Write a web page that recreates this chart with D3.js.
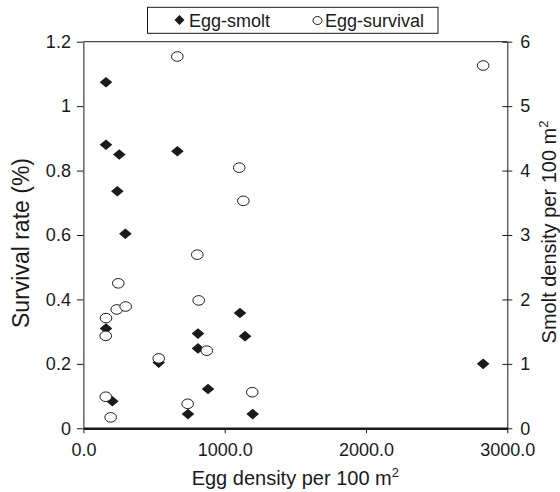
<!DOCTYPE html>
<html>
<head>
<meta charset="utf-8">
<script src="https://cdn.jsdelivr.net/npm/d3@7"></script>
<style>
  body { margin: 0; background: #fff; }
  svg { font-family: "Liberation Sans", Arial, sans-serif; }
</style>
</head>
<body>
<svg id="chart" width="560" height="492"></svg>
<script>
// egg-smolt series (right axis, smolts per 100 m2)
const smolt_eggs = [160, 160, 254, 665, 240, 297, 160, 1108, 811, 1144, 811, 533, 882, 205, 740, 1198, 2829];
const smolt_density = [5.37, 4.40, 4.25, 4.30, 3.68, 3.02, 1.55, 1.79, 1.47, 1.43, 1.24, 1.02, 0.61, 0.42, 0.22, 0.22, 1.0];

// egg-survival series (left axis, %)
const surv_eggs = [665, 1103, 1132, 806, 247, 816, 236, 299, 160, 158, 873, 533, 1195, 158, 738, 193, 2829];
const surv_rate = [1.154, 0.809, 0.706, 0.539, 0.450, 0.397, 0.369, 0.378, 0.342, 0.287, 0.241, 0.217, 0.112, 0.098, 0.076, 0.034, 1.126];

const x_ticks = [0, 1000, 2000, 3000];
const left_ticks = [0, 0.2, 0.4, 0.6, 0.8, 1, 1.2];
const right_ticks = [0, 1, 2, 3, 4, 5, 6];

const svg = d3.select("#chart");
const ink = "#1a1a1a";

const margins = { left: 83.4, right: 507.3, top: 41.7, bottom: 428.3 };

var x = d3.scaleLinear().domain([0, 3000]).range([margins.left, margins.right]);
var y_left = d3.scaleLinear().domain([0, 1.2]).range([margins.bottom, margins.top]);
var y_right = d3.scaleLinear().domain([0, 6]).range([margins.bottom, margins.top]);

// top frame line
svg.append("line")
    .attr("x1", x(0)).attr("x2", x(3000))
    .attr("y1", y_left(1.2)).attr("y2", y_left(1.2))
    .attr("stroke", ink).attr("stroke-width", 1);

// axes
const gx = svg.append("g")
    .attr("transform", `translate(0,${margins.bottom})`)
    .call(d3.axisBottom(x).tickValues(x_ticks).tickFormat(d3.format(".1f"))
        .tickSizeInner(5).tickSizeOuter(0).tickPadding(9.5));

const gl = svg.append("g")
    .attr("transform", `translate(${margins.left},0)`)
    .call(d3.axisLeft(y_left).tickValues(left_ticks).tickFormat(d3.format("~g"))
        .tickSizeInner(6.5).tickSizeOuter(0).tickPadding(6));

const gr = svg.append("g")
    .attr("transform", `translate(${margins.right},0)`)
    .call(d3.axisRight(y_right).tickValues(right_ticks).tickFormat(d3.format("~g"))
        .tickSizeInner(5).tickSizeOuter(0).tickPadding(8));
gr.selectAll(".tick line").attr("x1", -5);

[gx, gl, gr].forEach(g => {
    g.selectAll("text").attr("font-size", 18).attr("fill", ink)
        .attr("font-family", "Liberation Sans, Arial, sans-serif");
    g.selectAll("line").attr("stroke", ink);
    g.select(".domain").attr("stroke", ink);
});
gx.select(".domain").attr("stroke-width", 2.5);

// axis titles
const xt = svg.append("text")
    .attr("x", (margins.left + margins.right) / 2).attr("y", 485)
    .attr("text-anchor", "middle").attr("font-size", 20).attr("fill", ink);
xt.append("tspan").text("Egg density per 100 m");
xt.append("tspan").text("2").attr("font-size", 13).attr("dy", -8);

svg.append("text")
    .attr("transform", "translate(28.5,243) rotate(-90)")
    .attr("text-anchor", "middle").attr("font-size", 23).attr("fill", ink)
    .text("Survival rate (%)");

const rt = svg.append("text")
    .attr("transform", "translate(556,232) rotate(-90)")
    .attr("text-anchor", "middle").attr("font-size", 20).attr("fill", ink);
rt.append("tspan").text("Smolt density per 100 m");
rt.append("tspan").text("2").attr("font-size", 13).attr("dy", -8);

// markers
const diamond = (w, h) => `M0,${-h}L${w},0L0,${h}L${-w},0Z`;

svg.append("g")
    .selectAll("path")
    .data(smolt_eggs.map((e, i) => [e, smolt_density[i]]))
    .join("path")
    .attr("d", diamond(6.3, 5.3))
    .attr("transform", d => `translate(${x(d[0])},${y_right(d[1])})`)
    .attr("fill", ink);

svg.append("g")
    .selectAll("ellipse")
    .data(surv_eggs.map((e, i) => [e, surv_rate[i]]))
    .join("ellipse")
    .attr("cx", d => x(d[0]))
    .attr("cy", d => y_left(d[1]))
    .attr("rx", 5.8).attr("ry", 4.8)
    .attr("fill", "#fff")
    .attr("stroke", ink).attr("stroke-width", 1);

// legend
const legend = svg.append("g");
legend.append("rect")
    .attr("x", 147.5).attr("y", 7.3).attr("width", 290.5).attr("height", 26)
    .attr("fill", "#fff").attr("stroke", ink).attr("stroke-width", 1);
legend.append("path")
    .attr("d", diamond(5, 5))
    .attr("transform", "translate(179.5,20)")
    .attr("fill", ink);
legend.append("text")
    .attr("x", 189).attr("y", 26.5).attr("font-size", 18).attr("fill", ink)
    .text("Egg-smolt");
legend.append("ellipse")
    .attr("cx", 317.5).attr("cy", 20.5).attr("rx", 4.5).attr("ry", 4)
    .attr("fill", "#fff").attr("stroke", ink).attr("stroke-width", 1);
legend.append("text")
    .attr("x", 325).attr("y", 26.5).attr("font-size", 18).attr("fill", ink)
    .text("Egg-survival");
</script>
</body>
</html>
